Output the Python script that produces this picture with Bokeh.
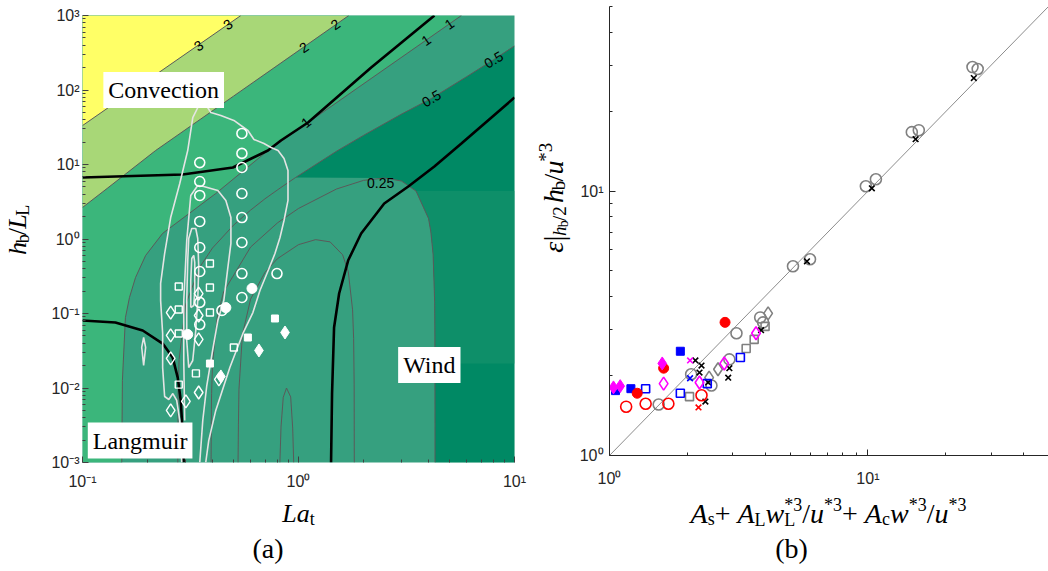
import math
from bokeh.plotting import figure
from bokeh.layouts import row, column
from bokeh.models import FixedTicker, Label, ColumnDataSource
from bokeh.embed import file_html
from bokeh.resources import INLINE
from bokeh.core.properties import value, field

# ======================= Panel (a) data =======================
la_lim = (0.1, 10.0)
hl_lim = (1e-3, 1e3)

# gray contour lines (levels 3, 2, 1, 0.5, 0.25, 0.1, 0)
c3_la = [0.1, 0.541]
c3_h = [33.3, 1000.0]
c2_la = [0.1, 0.13, 0.218, 0.5, 1.71]
c2_h = [2.65, 4.77, 15.4, 82.6, 1000.0]
c1_la = [0.152, 0.153, 0.158, 0.165, 0.176, 0.196, 0.235, 0.414, 0.722, 5.68]
c1_h = [0.001, 0.0126, 0.088, 0.164, 0.304, 0.601, 1.19, 4.08, 15.4, 1000.0]
c05_la = [0.2762, 0.277, 0.28, 0.3, 0.35, 0.4, 0.5, 0.6, 0.7, 0.829, 0.97, 1.5, 2.0, 3.0, 4.12, 6.0, 8.0, 10.0]
c05_h = [0.001, 0.0087, 0.024, 0.131, 0.425, 0.758, 1.53, 2.44, 3.47, 4.91, 6.7, 15.07, 24.6, 47.5, 76.9, 150.7, 255.0, 391.0]
c025_la = [0.3938, 0.395, 0.396, 0.40, 0.42, 0.45, 0.6, 0.8, 1.0, 1.5, 2.0, 2.5, 3.0, 3.5, 4.0, 4.1, 4.2, 4.27, 4.28, 4.285]
c025_h = [0.001, 0.0051, 0.0084, 0.0213, 0.088, 0.195, 0.779, 1.65, 2.57, 4.69, 6.12, 6.58, 6.0, 4.4, 1.88, 1.24, 0.62, 0.14, 0.05, 0.001]
c01_la = [0.525, 0.527, 0.53, 0.55, 0.6, 0.7, 0.8, 1.0, 1.2, 1.4, 1.6, 1.7, 1.78, 1.8, 1.81, 1.8125]
c01_h = [0.001, 0.0032, 0.0095, 0.052, 0.156, 0.358, 0.546, 0.84, 0.98, 0.915, 0.615, 0.365, 0.112, 0.046, 0.011, 0.001]
c00_la = [0.82, 0.83, 0.85, 0.88, 0.92, 0.94, 0.95]
c00_h = [0.001, 0.003, 0.0075, 0.010, 0.0076, 0.0029, 0.001]

# dark-green fill region (upper/right) and its striped (lighter) part on the far right
dark_la = [0.97, 1.5, 2.0, 3.0, 4.12, 6.0, 8.0, 10.0, 10.0, 4.285, 4.28, 4.27, 4.2, 4.1, 4.0, 3.5, 3.0, 2.5]
dark_h = [6.7, 15.07, 24.6, 47.5, 76.9, 150.7, 255.0, 391.0, 0.001, 0.001, 0.05, 0.14, 0.62, 1.24, 1.88, 4.4, 6.0, 6.58]
stripe_la = [3.5, 4.0, 4.1, 4.2, 4.27, 4.28, 4.283, 10.0, 10.0]
stripe_h = [4.4, 1.88, 1.24, 0.62, 0.14, 0.05, 0.0213, 0.0213, 4.4]

# black regime boundaries
bconv_la = [0.1, 0.291, 0.497, 0.722, 0.829, 1.107, 2.17, 4.26]
bconv_h = [6.70, 7.35, 9.12, 15.4, 21.0, 36.6, 200.0, 1000.0]
blang_la = [0.1, 0.142, 0.190, 0.235, 0.2616, 0.276, 0.285, 0.291, 0.294]
blang_h = [0.0805, 0.0757, 0.0591, 0.0395, 0.0256, 0.0138, 0.0068, 0.00245, 0.001]
bwind_la = [1.415, 1.43, 1.461, 1.542, 1.697, 1.95, 2.494, 3.223, 4.255, 5.677, 10.0]
bwind_h = [0.001, 0.00843, 0.0649, 0.1856, 0.514, 1.185, 3.00, 5.07, 9.40, 19.1, 79.3]

# white (data-density) contours
wout_la = [0.288, 0.282, 0.273, 0.262, 0.251, 0.240, 0.235, 0.235, 0.230, 0.230, 0.240, 0.256, 0.282,
           0.307, 0.324, 0.342, 0.353, 0.372, 0.393, 0.437, 0.502, 0.583, 0.622, 0.692, 0.746, 0.804,
           0.857, 0.894, 0.894, 0.857, 0.821, 0.778, 0.730, 0.663, 0.615, 0.553, 0.481, 0.414, 0.384, 0.372]
wout_h = [0.001, 0.00366, 0.0068, 0.00843, 0.00701, 0.00769, 0.0188, 0.054, 0.149, 0.253, 0.638, 1.94, 5.56,
          15.4, 42.7, 58.2, 72.3, 63.9, 49.9, 45.5, 39.0, 28.6, 21.7, 19.1, 16.9, 15.4,
          12.0, 8.30, 3.29, 1.77, 1.047, 0.638, 0.402, 0.204, 0.103, 0.054, 0.0188, 0.0050, 0.00197, 0.001]
wmid_la = [0.2974, 0.2943, 0.2943, 0.3038, 0.3171, 0.3416, 0.3643, 0.4232, 0.4609, 0.4865, 0.4865,
           0.4709, 0.4511, 0.4232, 0.4003, 0.3762, 0.3604, 0.349]
wmid_h = [0.00366, 0.0234, 0.149, 0.955, 3.84, 5.22, 5.07, 4.48, 3.29, 1.94, 0.871,
          0.414, 0.149, 0.0805, 0.0319, 0.0108, 0.00366, 0.001]
win1_la = [0.3103, 0.3038, 0.3038, 0.3071, 0.3103, 0.3205, 0.3345, 0.3416, 0.3453, 0.3416, 0.3345, 0.3239, 0.3103]
win1_h = [0.0188, 0.0434, 0.149, 0.514, 1.016, 1.384, 1.384, 1.016, 0.414, 0.149, 0.0591, 0.0234, 0.0188]
win2_la = [0.3171, 0.3171, 0.3205, 0.3274, 0.3309, 0.3309, 0.3274, 0.3171]
win2_h = [0.120, 0.277, 0.547, 0.601, 0.484, 0.204, 0.128, 0.120]
wisl_la = [0.1919, 0.196, 0.1919, 0.188, 0.1919]
wisl_h = [0.0476, 0.035, 0.0201, 0.035, 0.0476]

# observation markers (La_t, h_b/L_L)
ocirc_la = [0.349] * 8 + [0.547] * 8 + [0.795, 0.442]
ocirc_h = [10.6, 5.91, 3.84, 1.72, 0.769, 0.366, 0.141, 0.0711,
           26.1, 14.1, 9.12, 4.08, 1.94, 0.898, 0.344, 0.164, 0.344, 0.110]
fcirc_la = [0.609, 0.461, 0.307]
fcirc_h = [0.217, 0.120, 0.0523]
osq_la = [0.389, 0.279, 0.389, 0.279, 0.389, 0.279, 0.502, 0.335, 0.279]
osq_h = [0.469, 0.230, 0.223, 0.113, 0.103, 0.054, 0.035, 0.0157, 0.0111]
fsq_la = [0.778, 0.583, 0.389]
fsq_h = [0.0857, 0.0476, 0.0213]
odia_la = [0.345, 0.256, 0.345, 0.256, 0.345, 0.256, 0.301, 0.345, 0.256, 0.428]
odia_h = [0.185, 0.103, 0.094, 0.0507, 0.0448, 0.0249, 0.0066, 0.0087, 0.0050, 0.0131]
fdia_la = [0.866, 0.656, 0.437]
fdia_h = [0.0556, 0.0319, 0.0143]

# contour labels
clab_text = ["3", "3", "2", "2", "1", "1", "0.5", "0.5", "0.25", "1"]
clab_la = [0.345, 0.471, 1.06, 1.48, 3.9, 5.0, 4.12, 8.0, 2.4, 1.083]
clab_h = [395.0, 757.0, 372.0, 757.0, 467.0, 773.0, 76.9, 255.0, 5.56, 36.6]
clab_ang = [34.6, 34.6, 34.6, 34.6, 34.6, 34.6, 30.0, 30.0, 0.0, 40.0]

# regime names
reg_text = ["Convection", "Langmuir", "Wind"]
reg_la = [0.2376, 0.1848, 4.033]
reg_h = [100.0, 0.00197, 0.0204]

la_major = [0.1, 1.0, 10.0]
la_major_lab = ["10⁻¹", "10⁰", "10¹"]
h_major = [1e-3, 1e-2, 1e-1, 1.0, 10.0, 100.0, 1000.0]
h_major_lab = ["10⁻³", "10⁻²", "10⁻¹", "10⁰", "10¹", "10²", "10³"]

# ======================= Panel (b) data =======================
xy_lim = (1.0, 50.0)
diag_v = [1.0, 50.0]
gcirc_x = [5.13, 5.97, 9.82, 10.74, 14.79, 15.74, 25.4, 26.6, 3.10, 3.83, 3.93, 2.91, 2.07, 2.48, 1.55]
gcirc_y = [5.20, 5.53, 10.44, 11.10, 16.73, 17.02, 29.5, 29.0, 2.90, 3.33, 3.19, 2.31, 2.03, 1.84, 1.56]
gsq_x = [2.04, 3.38, 3.63, 4.0]
gsq_y = [1.67, 2.54, 2.75, 3.08]
gdia_x = [2.43, 2.63, 4.11]
gdia_y = [1.97, 2.12, 3.45]
kx_x = [5.81, 10.36, 15.3, 25.7, 2.15, 2.27, 2.23, 2.41, 2.91, 2.88, 2.35, 3.86]
kx_y = [5.43, 10.26, 15.74, 26.8, 2.29, 2.19, 2.06, 1.89, 2.14, 1.97, 1.60, 2.98]
bfsq_x = [1.88, 1.21, 1.055]
bfsq_y = [2.48, 1.79, 1.76]
bosq_x = [3.21, 2.39, 1.88, 1.38]
bosq_y = [2.35, 1.87, 1.72, 1.79]
bx_x = [2.05]
bx_y = [1.96]
rfc_x = [2.80, 1.62, 1.28]
rfc_y = [3.19, 2.14, 1.72]
roc_x = [1.16, 1.38, 1.69, 2.27]
roc_y = [1.53, 1.57, 1.57, 1.69]
rx_x = [2.21]
rx_y = [1.52]
mfd_x = [1.036, 1.10, 1.60]
mfd_y = [1.81, 1.83, 2.23]
mod_x = [1.62, 2.23, 2.78, 3.69]
mod_y = [1.87, 1.89, 2.23, 2.90]
mx_x = [2.05]
mx_y = [2.29]
xy_major = [1.0, 10.0]
xy_major_lab = ["10⁰", "10¹"]

# ======================= styling =======================
SERIF = "Liberation Serif"
SANS = "Liberation Sans"
YELLOW = "#FFFF66"
LIGHT = "#A8D777"
GREEN = "#3BB67B"
TEAL = "#36A07F"
DARK = "#008964"
STRIPE = "#0E8F69"
CGRAY = "#5A5A5A"
WHITE_C = "#E4E4E4"
GRAY = "#808080"

W_REG = {' ': 0.25, '(': 0.333, ')': 0.333, '+': 0.564, '/': 0.278, '*': 0.5, '2': 0.5, '3': 0.5,
         '|': 0.2, 'a': 0.444, 'b': 0.5, 'c': 0.444, 's': 0.389, 't': 0.278, 'L': 0.611}
W_IT = {'h': 0.5, 'L': 0.556, 'a': 0.5, 'u': 0.5, 'w': 0.667, 'A': 0.611, 'ε': 0.44, '/': 0.278}


def tw(t, size, it):
    tbl = W_IT if it else W_REG
    return sum(tbl.get(c, 0.5) for c in t) * size


def rich(fig, segs, cx, cy, vertical=False):
    """Run of text pieces (sub/superscripts) centred on (cx, cy) of a pixel-scaled label canvas."""
    total = sum(tw(t, s, it) for (t, s, r, it, adv) in segs if adv)
    pen = -total / 2.0
    d = dict(x=[], y=[], t=[], fs=[], st=[], a=[])
    for (t, s, r, it, adv) in segs:
        if vertical:
            d["x"].append(cx - r)
            d["y"].append(cy + pen)
            d["a"].append(90.0)
        else:
            d["x"].append(cx + pen)
            d["y"].append(cy + r)
            d["a"].append(0.0)
        d["t"].append(t)
        d["fs"].append(f"{s}px")
        d["st"].append("italic" if it else "normal")
        if adv:
            pen += tw(t, s, it)
    fig.text(x="x", y="y", text="t", angle="a", angle_units="deg",
             text_font_size=field("fs"), text_font_style=field("st"), text_font=value(SERIF),
             text_align="left", text_baseline="alphabetic", text_color="black",
             source=ColumnDataSource(d))


def label_fig(w, h):
    f = figure(width=w, height=h, x_range=(0, w), y_range=(0, h), x_axis_location=None,
               y_axis_location=None, toolbar_location=None, output_backend="svg", min_border=0)
    f.outline_line_color = None
    f.grid.visible = False
    f.background_fill_color = "white"
    f.border_fill_color = "white"
    return f


def minor_list(lo, hi):
    return [m * 10.0 ** e for e in range(lo, hi) for m in range(2, 10)]


def style_axis(ax, color, line_color):
    ax.major_tick_in = 6
    ax.major_tick_out = 0
    ax.minor_tick_in = 3
    ax.minor_tick_out = 0
    ax.major_tick_line_color = color
    ax.minor_tick_line_color = color
    ax.axis_line_color = line_color
    ax.major_label_text_font = SANS
    ax.major_label_text_font_size = "16px"
    ax.major_label_text_color = "#262626"


# ======================= Panel (a) =======================
p1 = figure(width=484, height=496, x_axis_type="log", y_axis_type="log",
            x_range=la_lim, y_range=hl_lim, output_backend="svg", toolbar_location=None,
            min_border_left=34, min_border_right=18, min_border_top=15, min_border_bottom=34)
p1.background_fill_color = TEAL
p1.border_fill_color = "white"
p1.outline_line_color = None
p1.grid.visible = False
p1.xaxis.ticker = FixedTicker(ticks=la_major, minor_ticks=minor_list(-1, 1))
p1.yaxis.ticker = FixedTicker(ticks=h_major, minor_ticks=minor_list(-3, 3))
p1.xaxis.major_label_overrides = dict(zip(la_major, la_major_lab))
p1.yaxis.major_label_overrides = dict(zip(h_major, h_major_lab))
style_axis(p1.xaxis[0], "#404040", None)
style_axis(p1.yaxis[0], "#404040", None)
p1.xaxis.major_label_standoff = 10
p1.yaxis.major_label_standoff = 3

# filled regions
p1.patch(dark_la, dark_h, fill_color=DARK, line_color=None)
p1.patch(stripe_la, stripe_h, fill_color=STRIPE, line_color=None)
p1.patch([0.1] + c1_la + [0.1], [0.001] + c1_h + [1000.0], fill_color=GREEN, line_color=None)
p1.patch(c2_la + [0.1], c2_h + [1000.0], fill_color=LIGHT, line_color=None)
p1.patch(c3_la + [0.1], c3_h + [1000.0], fill_color=YELLOW, line_color=None)

# gray contour lines
for cx_, cy_ in [(c3_la, c3_h), (c2_la, c2_h), (c1_la, c1_h), (c05_la, c05_h),
                 (c025_la, c025_h), (c01_la, c01_h), (c00_la, c00_h)]:
    p1.line(cx_, cy_, line_color=CGRAY, line_width=1)

# black regime boundaries
for bx_, by_ in [(bconv_la, bconv_h), (blang_la, blang_h), (bwind_la, bwind_h)]:
    p1.line(bx_, by_, line_color="black", line_width=2.6)

# white contours
for wx, wy in [(wout_la, wout_h), (wmid_la, wmid_h), (win1_la, win1_h), (win2_la, win2_h), (wisl_la, wisl_h)]:
    p1.line(wx, wy, line_color=WHITE_C, line_width=1.6)

# markers
p1.scatter(ocirc_la, ocirc_h, marker="circle", size=10, fill_color=None, line_color="white", line_width=1.6)
p1.scatter(osq_la, osq_h, marker="square", size=7, fill_color=None, line_color="white", line_width=1.4)
p1.scatter(odia_la, odia_h, marker="diamond", size=13, fill_color=None, line_color="white", line_width=1.4)
p1.scatter(fcirc_la, fcirc_h, marker="circle", size=10, fill_color="white", line_color="white")
p1.scatter(fsq_la, fsq_h, marker="square", size=7, fill_color="white", line_color="white")
p1.scatter(fdia_la, fdia_h, marker="diamond", size=13, fill_color="white", line_color="white")

# contour labels
src_lab = ColumnDataSource(dict(x=clab_la, y=clab_h, t=clab_text, a=clab_ang))
p1.text(x="x", y="y", text="t", angle="a", angle_units="deg", source=src_lab,
        text_font=value(SANS), text_font_size="14px", text_align="center",
        text_baseline="middle", text_color="black")

for t, x, y in zip(reg_text, reg_la, reg_h):
    p1.add_layout(Label(x=x, y=y, text=t, text_font=SERIF, text_font_size="24px",
                        text_align="center", text_baseline="middle", text_color="black",
                        background_fill_color="white", padding=5))

# label canvases for panel (a)
ylab1 = label_fig(48, 496)
rich(ylab1, [("h", 26, 0, True, True), ("b", 18, -5, False, True), ("/", 26, 0, False, True),
             ("L", 26, 0, True, True), ("L", 18, -5, False, True)], 17, 257.5, vertical=True)
xlab1 = label_fig(532, 75)
rich(xlab1, [("La", 26, 0, True, True), ("t", 18, -5, False, True)], 298, 58)
rich(xlab1, [("(a)", 28, 0, False, True)], 267.5, 23)

# ======================= Panel (b) =======================
p2 = figure(width=472, height=491, x_axis_type="log", y_axis_type="log",
            x_range=xy_lim, y_range=xy_lim, output_backend="svg", toolbar_location=None,
            min_border_left=32, min_border_right=0, min_border_top=6, min_border_bottom=36)
p2.background_fill_color = "white"
p2.border_fill_color = "white"
p2.outline_line_color = None
p2.grid.visible = False
p2.xaxis.ticker = FixedTicker(ticks=xy_major, minor_ticks=minor_list(0, 2))
p2.yaxis.ticker = FixedTicker(ticks=xy_major, minor_ticks=minor_list(0, 2))
p2.xaxis.major_label_overrides = dict(zip(xy_major, xy_major_lab))
p2.yaxis.major_label_overrides = dict(zip(xy_major, xy_major_lab))
style_axis(p2.xaxis[0], "#262626", "#262626")
style_axis(p2.yaxis[0], "#262626", "#262626")
p2.xaxis.major_label_standoff = 14
p2.yaxis.major_label_standoff = 6

p2.line(diag_v, diag_v, line_color="#8C8C8C", line_width=1)

p2.scatter(gcirc_x, gcirc_y, marker="circle", size=11, fill_color=None, line_color=GRAY, line_width=1.6)
p2.scatter(gsq_x, gsq_y, marker="square", size=8, fill_color=None, line_color=GRAY, line_width=1.6)
p2.scatter(gdia_x, gdia_y, marker="diamond", size=13, fill_color=None, line_color=GRAY, line_width=1.6)
p2.scatter(kx_x, kx_y, marker="x", size=8, line_color="black", line_width=1.6)
p2.scatter(bfsq_x, bfsq_y, marker="square", size=8, fill_color="blue", line_color="blue")
p2.scatter(bosq_x, bosq_y, marker="square", size=8, fill_color=None, line_color="blue", line_width=1.6)
p2.scatter(bx_x, bx_y, marker="x", size=8, line_color="blue", line_width=1.6)
p2.scatter(rfc_x, rfc_y, marker="circle", size=10, fill_color="red", line_color="red")
p2.scatter(roc_x, roc_y, marker="circle", size=11, fill_color=None, line_color="red", line_width=1.6)
p2.scatter(rx_x, rx_y, marker="x", size=8, line_color="red", line_width=1.6)
p2.scatter(mfd_x, mfd_y, marker="diamond", size=13, fill_color="magenta", line_color="magenta")
p2.scatter(mod_x, mod_y, marker="diamond", size=13, fill_color=None, line_color="magenta", line_width=1.6)
p2.scatter(mx_x, mx_y, marker="x", size=8, line_color="magenta", line_width=1.6)

# label canvases for panel (b)
M, S = 28, 18
ylab2 = label_fig(44, 491)
rich(ylab2, [("ε", 28, 0, True, True), ("|", 30, 0, False, True), ("h", 19, -6, True, True),
             ("b", 14, -10, False, True), ("/2", 19, -6, False, True), (" ", 19, 0, False, True),
             ("h", 28, 0, True, True), ("b", 19, -5, False, True), ("/", 28, 0, False, True),
             ("u", 28, 0, True, True), ("*3", 19, 8, False, True)], 21, 281, vertical=True)
xlab2 = label_fig(516, 80)
rich(xlab2, [("A", M, 0, True, True), ("s", S, -5, False, True), ("+ ", M, 0, False, True),
             ("A", M, 0, True, True), ("L", S, -6, False, True), ("w", M, 0, True, True),
             ("L", S, -6, False, False), ("*3", S, 9, False, True), ("/", M, 0, False, True),
             ("u", M, 0, True, True), ("*3", S, 9, False, True), ("+ ", M, 0, False, True),
             ("A", M, 0, True, True), ("c", S, -5, False, True), ("w", M, 0, True, True),
             ("*3", S, 9, False, True), ("/", M, 0, False, True), ("u", M, 0, True, True),
             ("*3", S, 9, False, True)], 296, 58)
rich(xlab2, [("(b)", 28, 0, False, True)], 259, 23)

layout = row(column(row(ylab1, p1), xlab1), column(row(ylab2, p2), xlab2))
open("out.html", "w").write(file_html(layout, INLINE))
